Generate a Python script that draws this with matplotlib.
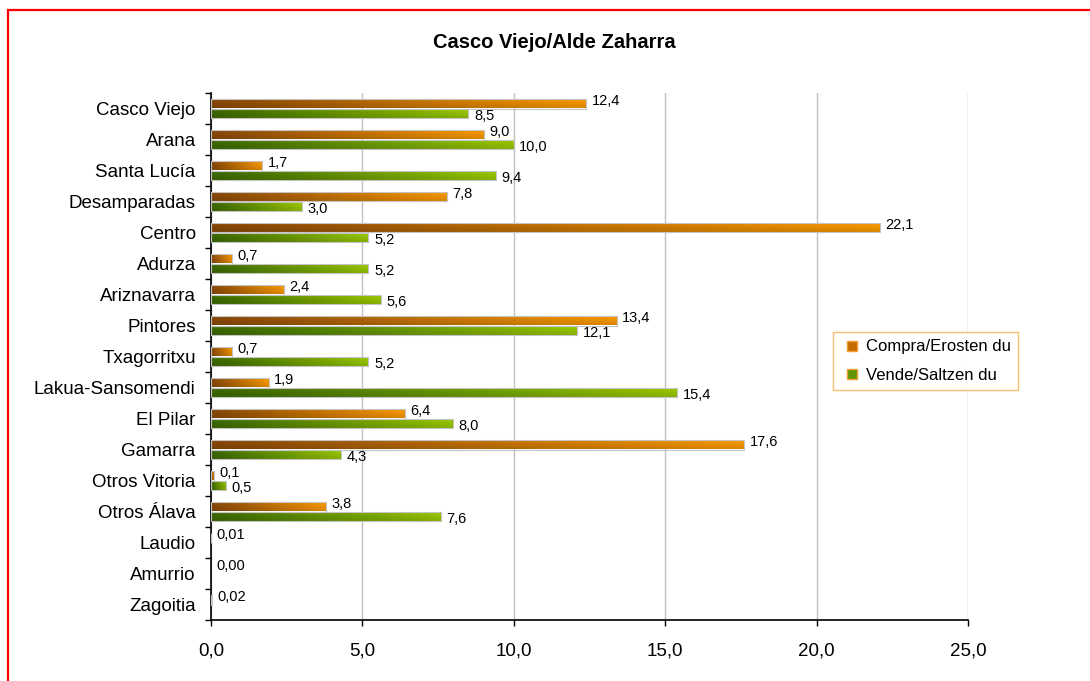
import numpy as np
import matplotlib
matplotlib.use('Agg')
import matplotlib.pyplot as plt
from matplotlib.patches import Rectangle
from matplotlib.lines import Line2D
from matplotlib.colors import to_rgb

plt.rcParams['font.family'] = ['Liberation Sans', 'DejaVu Sans']

barrios = ['Casco Viejo', 'Arana', 'Santa Lucía', 'Desamparadas', 'Centro',
           'Adurza', 'Ariznavarra', 'Pintores', 'Txagorritxu',
           'Lakua-Sansomendi', 'El Pilar', 'Gamarra', 'Otros Vitoria',
           'Otros Álava', 'Laudio', 'Amurrio', 'Zagoitia']
compra = [12.4, 9.0, 1.7, 7.8, 22.1, 0.7, 2.4, 13.4, 0.7, 1.9, 6.4, 17.6,
          0.1, 3.8, 0.01, 0.00, 0.02]
vende = [8.5, 10.0, 9.4, 3.0, 5.2, 5.2, 5.6, 12.1, 5.2, 15.4, 8.0, 4.3,
         0.5, 7.6, 0, 0, 0]
# los tres ultimos solo llevan etiqueta de compra, con dos decimales
decimales_compra = [1] * 14 + [2, 2, 2]
con_etiqueta_vende = [True] * 14 + [False, False, False]

xticks = [0, 5, 10, 15, 20, 25]


def fmt(v, d=1):
    return f'{v:.{d}f}'.replace('.', ',')


def rampa(c_osc, c_cla, n=64, m=10):
    a = np.array(to_rgb(c_osc))
    b = np.array(to_rgb(c_cla))
    t = np.linspace(0, 1, n)[None, :, None]
    img = a + (b - a) * t
    img = np.repeat(img, m, axis=0)
    vert = np.linspace(1.0, 0.86, m)[:, None, None]
    return np.clip(img * vert, 0, 1)


fig = plt.figure(figsize=(10.9, 6.81), dpi=100)
ax = fig.add_axes([211 / 1090, 1 - 620 / 681, 757 / 1090, 527 / 681])

y = np.arange(len(barrios))
h = 0.30
img_nar = rampa('#8c4a08', '#ff9c00')
img_ver = rampa('#3d6b00', '#9ccc00')

for serie, off, img in [(compra, -0.15, img_nar), (vende, 0.15, img_ver)]:
    bars = ax.barh(y + off, serie, height=h, facecolor='none',
                   edgecolor='#c4c4c4', linewidth=0.8, zorder=3)
    for b, v in zip(bars, serie):
        if v <= 0:
            b.set_visible(False)
            continue
        x0, y0 = b.get_x(), b.get_y()
        im = ax.imshow(img, extent=(x0, x0 + b.get_width(), y0 + h, y0),
                       origin='upper', aspect='auto', zorder=2,
                       interpolation='bilinear')
        im.set_clip_path(b)

for i in range(len(barrios)):
    ax.annotate(fmt(compra[i], decimales_compra[i]), (compra[i], y[i] - 0.15),
                xytext=(4, 2), textcoords='offset points', va='center',
                ha='left', fontsize=10.5, zorder=5)
    if con_etiqueta_vende[i]:
        ax.annotate(fmt(vende[i]), (vende[i], y[i] + 0.15),
                    xytext=(4, -2), textcoords='offset points', va='center',
                    ha='left', fontsize=10.5, zorder=5)

ax.set_xlim(0, 25)
ax.set_ylim(len(barrios) - 0.5, -0.5)
ax.set_xticks(xticks)
ax.set_xticklabels([fmt(v) for v in xticks], fontsize=13.5)
ax.set_yticks(y)
ax.set_yticklabels(barrios, fontsize=13.5)
ax.set_yticks(np.arange(len(barrios) + 1) - 0.5, minor=True)
ax.tick_params(axis='y', which='major', length=0, pad=11)
ax.tick_params(axis='y', which='minor', length=4, direction='out', width=1)
ax.tick_params(axis='x', length=4, width=1, pad=12)

ax.grid(axis='x', color='#c0c0c0', linewidth=1)
ax.set_axisbelow(True)
for s in ['top', 'right']:
    ax.spines[s].set_visible(False)
for s in ['left', 'bottom']:
    ax.spines[s].set_linewidth(1.2)

fig.text(554 / 1090, 1 - 42 / 681, 'Casco Viejo/Alde Zaharra', ha='center',
         va='center', fontsize=14.5, fontweight='bold')

handles = [Line2D([], [], linestyle='none', marker='s', markersize=7,
                  markerfacecolor='#c46a00', markeredgecolor='#f0a030',
                  label='Compra/Erosten du'),
           Line2D([], [], linestyle='none', marker='s', markersize=7,
                  markerfacecolor='#5e9400', markeredgecolor='#f0a030',
                  label='Vende/Saltzen du')]
leg = fig.legend(handles=handles, loc='upper left',
                 bbox_to_anchor=(833 / 1090, 1 - 332 / 681), fontsize=12,
                 frameon=True, fancybox=False, edgecolor='#f5b04a',
                 handlelength=1.4, handletextpad=0.1,
                 labelspacing=0.8, borderpad=0.45, borderaxespad=0)
leg.get_frame().set_linewidth(1)

# marco rojo (solo se ven el lado izquierdo y el superior)
fig.patches.append(Rectangle((8 / 1090, -0.1), 1.2, 1 - 10 / 681 + 0.1,
                             transform=fig.transFigure, fill=False,
                             edgecolor='red', linewidth=1.6, clip_on=False))

fig.savefig('out.png', dpi=100)
